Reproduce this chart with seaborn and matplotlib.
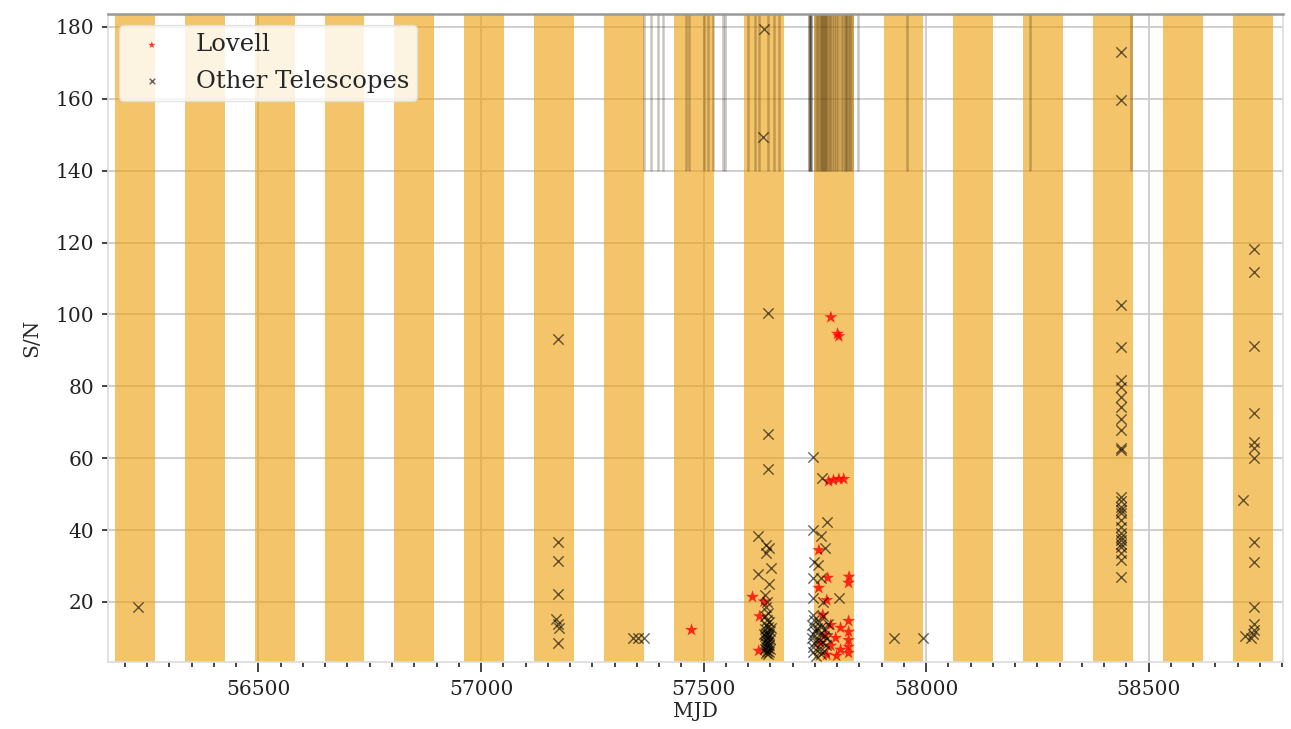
import matplotlib
matplotlib.use("Agg")
import matplotlib.pyplot as plt
import numpy as np
import pandas as pd
import seaborn as sns
from matplotlib.ticker import MultipleLocator

# Activity-window model (days)
PERIOD = 157.0
WINDOW = 89.5
FIRST_WINDOW_START = 56177.5

# Lovell detections
lovell_mjd = [57473, 57610, 57636, 57626, 57624,
              57786, 57801, 57804, 57781, 57792, 57804, 57815,
              57759, 57779, 57827, 57826, 57759, 57777,
              57768, 57826, 57786, 57808, 57826, 57774, 57797,
              57826, 57763, 57786, 57826, 57808, 57826, 57777, 57799]
lovell_snr = [12.2, 21.4, 20.1, 16.0, 6.4,
              99.2, 94.6, 93.9, 53.6, 53.9, 54.2, 54.2,
              34.4, 26.7, 27.0, 25.3, 23.9, 20.5,
              16.4, 14.7, 13.6, 12.8, 11.7, 10.8, 10.0,
              9.4, 8.6, 7.8, 7.5, 6.7, 5.8, 5.3, 5.0]

# Detections from other telescopes
other_mjd = [56230,
             57172, 57174, 57174, 57174, 57168, 57172, 57175, 57174,
             57341, 57352, 57366,
             57635, 57633, 57644, 57644, 57644, 57622, 57640, 57647,
             57640, 57651, 57622, 57647, 57639, 57643,
             57640, 57645, 57638, 57642, 57648, 57640, 57644, 57637,
             57650, 57641, 57646, 57638, 57643, 57649, 57640, 57645,
             57637, 57642, 57647, 57640, 57644, 57638, 57650, 57642,
             57646, 57640, 57644, 57648, 57652, 57635,
             57745, 57767, 57778, 57747, 57763, 57774, 57748, 57758,
             57745, 57763, 57746, 57804, 57768,
             57745, 57748, 57760, 57744, 57765, 57772, 57750, 57746,
             57762, 57770, 57744, 57755, 57766, 57748, 57775, 57745,
             57760, 57770, 57746, 57764, 57752, 57778, 57780, 57756,
             57768,
             57927, 57992,
             58437, 58437, 58437, 58437, 58437, 58437, 58437, 58437,
             58437, 58437, 58437, 58437, 58437, 58437, 58437, 58438,
             58437, 58439, 58437, 58438, 58437, 58437, 58437, 58437,
             58437, 58437, 58437,
             58737, 58737, 58737, 58737, 58737, 58737, 58737, 58713,
             58737, 58737, 58737, 58737, 58737, 58735, 58717, 58730]
other_snr = [18.6,
             93.1, 36.6, 31.4, 22.2, 15.2, 14.0, 12.8, 8.6,
             10.0, 10.0, 10.0,
             179.4, 149.4, 100.3, 66.6, 57.0, 38.4, 35.8, 35.0,
             33.5, 29.5, 27.8, 25.0, 22.0, 20.0,
             18.5, 17.0, 16.0, 15.0, 14.5, 13.5, 13.0, 12.5,
             12.0, 11.5, 11.0, 10.5, 10.0, 9.8, 9.5, 9.0,
             8.7, 8.3, 8.0, 7.6, 7.2, 7.0, 6.8, 6.5,
             6.2, 5.8, 5.5, 10.5, 12.8, 11.0,
             60.4, 54.4, 42.3, 40.0, 38.4, 35.0, 31.2, 30.3,
             26.6, 26.6, 21.0, 21.0, 20.0,
             16.5, 15.0, 14.5, 13.5, 13.0, 12.5, 12.0, 11.0,
             11.0, 10.5, 10.0, 9.5, 9.0, 8.5, 8.0, 7.5,
             7.0, 6.5, 6.0, 5.5, 5.0, 10.0, 14.0, 12.8,
             16.0,
             10.0, 10.0,
             173.0, 159.7, 102.5, 90.9, 81.7, 79.8, 77.0, 74.3,
             71.0, 67.8, 62.8, 62.2, 49.2, 48.0, 46.5, 44.7,
             42.8, 40.9, 39.2, 38.0, 37.2, 35.4, 33.5, 31.7,
             36.0, 45.5, 27.0,
             118.3, 111.8, 91.1, 72.6, 64.5, 62.7, 60.0, 48.3,
             36.8, 31.2, 18.7, 14.0, 12.2, 11.0, 10.4, 10.0]

# Lovell observing epochs (shown as ticks in the upper strip)
lovell_obs_mjd = [57366, 57382, 57397, 57408,
                  57460, 57467, 57501, 57510, 57521,
                  57543, 57548,
                  57599, 57615, 57624, 57644, 57658, 57669,
                  57737, 57738, 57739, 57740, 57741, 57742,
                  57750, 57754, 57758, 57761, 57764, 57766, 57768, 57770,
                  57772, 57775, 57778, 57781, 57785, 57789, 57793, 57798,
                  57803, 57808, 57813, 57817, 57820, 57823, 57826, 57830,
                  57834,
                  57846, 57958, 58234, 58461]

lovell = pd.DataFrame({"MJD": lovell_mjd, "S/N": lovell_snr})
others = pd.DataFrame({"MJD": other_mjd, "S/N": other_snr})

sns.set_theme(style="whitegrid")
plt.rcParams["font.family"] = ["DejaVu Serif"]
plt.rcParams["mathtext.fontset"] = "dejavuserif"

fig = plt.figure(figsize=(12.91, 7.29), dpi=100)
ax = fig.add_axes([0.0837, 0.0919, 0.9101, 0.889])

xmin, xmax = 56162, 58802
ymin, ymax = 3.3, 183.6

# periodic activity windows
start = FIRST_WINDOW_START
while start < xmax:
    ax.axvspan(start, start + WINDOW, color="#ee9e08", alpha=0.6, lw=0, zorder=1)
    start += PERIOD

ax.vlines(lovell_obs_mjd, 140, ymax + 10, colors="#2a1800", alpha=0.25, lw=1.8, zorder=2)

sns.scatterplot(data=lovell, x="MJD", y="S/N", marker="*", color="red", s=95,
                edgecolor="none", alpha=0.8, label="Lovell", ax=ax, zorder=3)
sns.scatterplot(data=others, x="MJD", y="S/N", marker="x", color="black", s=55,
                linewidth=1.0, alpha=0.6, label="Other Telescopes", ax=ax, zorder=3)

ax.set_xlim(xmin, xmax)
ax.set_ylim(ymin, ymax)
ax.set_yticks(np.arange(20, 181, 20))
ax.xaxis.set_major_locator(MultipleLocator(500))
ax.xaxis.set_minor_locator(MultipleLocator(50))
ax.tick_params(axis="both", which="major", labelsize=14.5, colors="#222222")
ax.tick_params(axis="x", which="major", bottom=True, direction="out", length=7, width=1.2, pad=6)
ax.tick_params(axis="x", which="minor", bottom=True, direction="out", length=3.5, width=1.2, color="#222222")
ax.tick_params(axis="y", which="major", left=True, direction="out", length=4, width=1.2, pad=6)
ax.grid(True, which="major", color="#cccccc", lw=1.3)
ax.grid(False, which="minor")

for side in ["left", "right", "bottom"]:
    ax.spines[side].set_color("#dddddd")
ax.spines["top"].set_color("#999999")
ax.spines["top"].set_linewidth(1.8)

ax.set_xlabel("MJD", fontsize=14.5, labelpad=2)
ax.set_ylabel("S/N", fontsize=14.5, labelpad=10)

leg = ax.legend(loc="upper left", fontsize=17.5, frameon=True, framealpha=0.8,
                markerscale=0.55, borderpad=0.35, handletextpad=0.8, labelspacing=0.55,
                borderaxespad=0.45)
leg.get_frame().set_edgecolor("#dddddd")

fig.savefig("out.png", dpi=100)
